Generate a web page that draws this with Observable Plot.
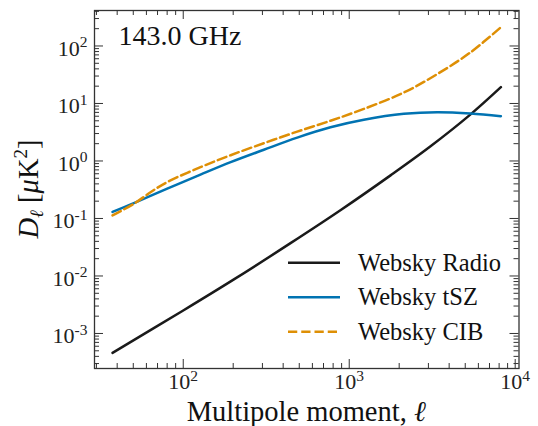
<!DOCTYPE html>
<html>
<head>
<meta charset="utf-8">
<script src="https://cdn.jsdelivr.net/npm/d3@7"></script>
<script src="https://cdn.jsdelivr.net/npm/@observablehq/plot@0.6"></script>
<style>
  html, body { margin: 0; padding: 0; background: #fff; overflow: hidden; }
  #chart { position: relative; width: 538px; height: 426px; }
  #chart > svg { position: absolute; left: 0; top: 0; }
</style>
</head>
<body>
<div id="chart"></div>
<script>
// Foreground power spectra at 143 GHz (D_ell in uK^2)
const radioEll = [37.5, 100, 202, 443, 885, 1774, 3090, 5383, 8200];
const radioDl  = [4.61e-4, 2.51e-3, 8.71e-3, 0.0372, 0.139, 0.562, 1.80, 6.46, 19.2];

const tszEll = [37.5, 50.4, 80.1, 127, 193, 306, 486, 771, 1225, 2134, 3388, 5383, 8200];
const tszDl  = [0.13, 0.185, 0.33, 0.58, 0.955, 1.57, 2.55, 3.85, 5.2, 6.6, 7.06, 6.7, 6.0];

const cibEll = [37.5, 50.4, 63.5, 80.1, 127, 193, 306, 486, 771, 1225, 2134, 3388, 5383, 8200];
const cibDl  = [0.113, 0.18, 0.286, 0.43, 0.78, 1.26, 2.04, 3.24, 5.01, 8.04, 15.5, 32.4, 77.6, 212];

const seriesNames  = ["Websky Radio", "Websky tSZ", "Websky CIB"];
const seriesColors = ["#1a1a1a", "#0173b2", "#de8f05"];
const seriesDash   = [null, null, "9.25,4"];

const xMajor = [1e2, 1e3, 1e4];
const yMajor = [1e-3, 1e-2, 1e-1, 1e0, 1e1, 1e2];
const xMinor = [];
for (const d of [10, 100, 1000]) for (let m = 2; m <= 9; m++) if (m * d >= 30) xMinor.push(m * d);
const yMinor = [];
for (const d of [1e-4, 1e-3, 1e-2, 1e-1, 1, 10, 100]) for (let m = 2; m <= 9; m++) {
  const v = m * d;
  if (v > 2.5e-4 && v < 410) yMinor.push(v);
}

const toRows = (ell, dl, name) => ell.map((e, i) => ({ell: e, dl: dl[i], name}));
const rows = [
  ...toRows(radioEll, radioDl, seriesNames[0]),
  ...toRows(tszEll, tszDl, seriesNames[1]),
  ...toRows(cibEll, cibDl, seriesNames[2])
];

const FONT = "Liberation Serif";
const W = 538, H = 426;
const mL = 94, mR = 19.5, mT = 10, mB = 58;
const innerW = W - mL - mR, innerH = H - mT - mB;
const majLen = 9, minLen = 5;
const tickColor = "#333";

const expLabel = d => "10^" + Math.round(Math.log10(d));

const marks = [
  Plot.frame({stroke: tickColor, strokeWidth: 1.3}),
  // inward ticks on all four sides
  Plot.ruleX(xMajor, {x: d => d, insetTop: innerH - majLen, stroke: tickColor, strokeWidth: 1}),
  Plot.ruleX(xMajor, {x: d => d, insetBottom: innerH - majLen, stroke: tickColor, strokeWidth: 1}),
  Plot.ruleX(xMinor, {x: d => d, insetTop: innerH - minLen, stroke: tickColor, strokeWidth: 1}),
  Plot.ruleX(xMinor, {x: d => d, insetBottom: innerH - minLen, stroke: tickColor, strokeWidth: 1}),
  Plot.ruleY(yMajor, {y: d => d, insetRight: innerW - majLen, stroke: tickColor, strokeWidth: 1}),
  Plot.ruleY(yMajor, {y: d => d, insetLeft: innerW - majLen, stroke: tickColor, strokeWidth: 1}),
  Plot.ruleY(yMinor, {y: d => d, insetRight: innerW - minLen, stroke: tickColor, strokeWidth: 1}),
  Plot.ruleY(yMinor, {y: d => d, insetLeft: innerW - minLen, stroke: tickColor, strokeWidth: 1}),
  Plot.axisX({ticks: xMajor, tickSize: 0, tickPadding: 5, tickFormat: expLabel, fontSize: 22, label: null, fill: "#222", fontFamily: FONT}),
  Plot.axisY({ticks: yMajor, tickSize: 0, tickPadding: 7, dy: 2.6, tickFormat: expLabel, fontSize: 22, label: null, fill: "#222", fontFamily: FONT}),
  ...seriesNames.map((name, i) => Plot.line(rows.filter(r => r.name === name), {
    x: "ell", y: "dl", stroke: seriesColors[i], strokeWidth: 2.5,
    strokeDasharray: seriesDash[i], curve: "catmull-rom"
  })),
  Plot.text(["143.0 GHz"], {frameAnchor: "top-left", dx: 24, dy: 15, fontSize: 28, fill: "#111", textAnchor: "start", lineAnchor: "top", fontFamily: FONT})
];

const svg = Plot.plot({
  width: W, height: H,
  marginLeft: mL, marginRight: mR, marginTop: mT, marginBottom: mB,
  x: {type: "log", domain: [29.2, 10541]},
  y: {type: "log", domain: [2.46e-4, 414]},
  style: {background: "#fff", fontFamily: FONT},
  marks
});

const NS = "http://www.w3.org/2000/svg";
const el = (tag, attrs, text) => {
  const e = document.createElementNS(NS, tag);
  for (const k in attrs) e.setAttribute(k, attrs[k]);
  if (text != null) e.textContent = text;
  return e;
};

// Exponent tick labels: 10^k -> "10" with a raised exponent
svg.querySelectorAll('g[aria-label="x-axis tick label"] text, g[aria-label="y-axis tick label"] text').forEach(t => {
  const s = t.textContent;
  if (!s.includes("^")) return;
  const [base, exp] = s.split("^");
  t.textContent = base;
  t.appendChild(el("tspan", {"font-size": 15.5, dy: -8.5}, exp));
});

// Annotation layer: axis titles and legend, drawn over the plot
const over = el("svg", {width: W, height: H, viewBox: `0 0 ${W} ${H}`});

const xTitle = el("text", {x: mL + innerW / 2, y: 421, "text-anchor": "middle", "font-size": 28.5, fill: "#111", "font-family": FONT});
xTitle.appendChild(el("tspan", {}, "Multipole moment, "));
xTitle.appendChild(el("tspan", {"font-style": "italic"}, "ℓ"));
over.appendChild(xTitle);

const yTitle = el("text", {transform: `translate(38,${mT + innerH / 2}) rotate(-90)`, "text-anchor": "middle", "font-size": 28.5, fill: "#111", "font-family": FONT});
yTitle.appendChild(el("tspan", {"font-style": "italic"}, "D"));
yTitle.appendChild(el("tspan", {"font-style": "italic", "font-size": 19, dy: 5}, "ℓ"));
yTitle.appendChild(el("tspan", {dy: -5}, " ["));
yTitle.appendChild(el("tspan", {"font-style": "italic"}, "μ"));
yTitle.appendChild(el("tspan", {}, "K"));
yTitle.appendChild(el("tspan", {"font-size": 19, dy: -11}, "2"));
yTitle.appendChild(el("tspan", {dy: 11}, "]"));
over.appendChild(yTitle);

const legY = [262.7, 297.3, 331.7];
seriesNames.forEach((name, i) => {
  const ln = el("line", {x1: 288, x2: 340, y1: legY[i], y2: legY[i], stroke: seriesColors[i], "stroke-width": 2.5});
  if (seriesDash[i]) ln.setAttribute("stroke-dasharray", seriesDash[i]);
  over.appendChild(ln);
  over.appendChild(el("text", {x: 358, y: legY[i] + 8, "text-anchor": "start", "font-size": 24.5, fill: "#111", "font-family": FONT}, name));
});

const host = document.getElementById("chart");
host.appendChild(svg);
host.appendChild(over);
</script>
</body>
</html>
